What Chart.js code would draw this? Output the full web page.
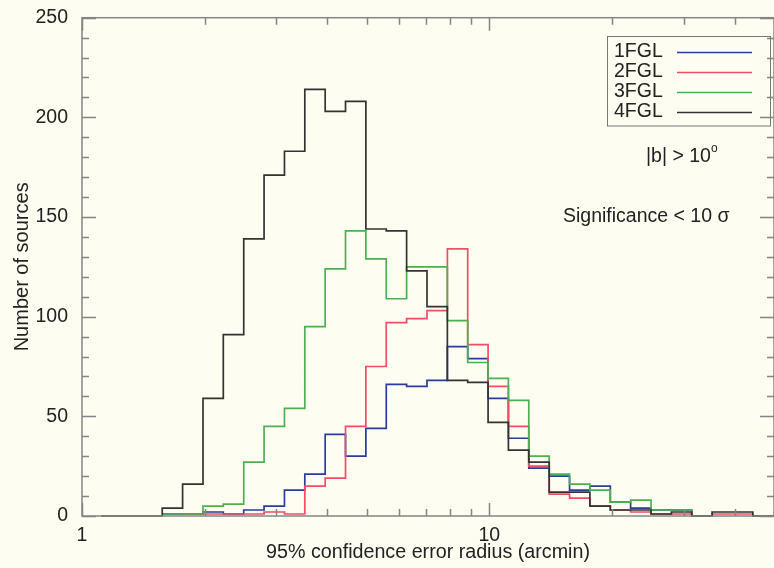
<!DOCTYPE html>
<html>
<head>
<meta charset="utf-8">
<title>Error radius histogram</title>
<script src="https://cdn.jsdelivr.net/npm/chart.js@4.4.1/dist/chart.umd.min.js"></script>
<style>
  html, body { margin: 0; padding: 0; background: #fdfdf2; }
  canvas { display: block; }
</style>
</head>
<body>
<canvas id="hist" width="774" height="568"></canvas>
<script>
// bin edges (arcmin), log-spaced 0.05 dex
const edges = [1.114, 1.250, 1.403, 1.574, 1.766, 1.982, 2.223, 2.495, 2.799, 3.141,
  3.524, 3.954, 4.436, 4.977, 5.585, 6.266, 7.031, 7.889, 8.851, 9.931,
  11.14, 12.50, 14.03, 15.74, 17.66, 19.82, 22.23, 24.95, 27.99, 31.41,
  35.24, 39.54, 44.36, 49.77];

// counts per bin, null = no entry
const fgl1 = [null, null, null, 1, 1, 2, 1, 3, 5, 13, 21, 41, 30, 44, 66, 65, 68, 85, 79, 59,
  39, 24, 20, 13, 15, 7, 4, 3, 3, 0, null, null, null];
const fgl2 = [null, null, null, null, 1, 1, 1, 1, 2, 1, 15, 19, 45, 75, 97, 99, 103, 134, 86, 65,
  45, 25, 11, 9, 5, 3, 2, 1, 1, 0, 1, 1, 0];
const fgl3 = [null, null, null, 1, 1, 5, 6, 27, 45, 54, 95, 124, 143, 129, 109, 125, 125, 98, 77, 69,
  58, 30, 21, 16, 13, 7, 8, 3, 3, 0, null, null, null];
const fgl4 = [0, 0, 0, 4, 16, 59, 91, 139, 171, 183, 214, 203, 208, 144, 143, 123, 105, 68, 67, 47,
  33, 27, 12, 12, 5, 3, 3, 1, 2, 0, 2, 2, 0];

const seriesNames = ['1FGL', '2FGL', '3FGL', '4FGL'];
const seriesColors = ['#2a3d9c', '#f04e64', '#4db04f', '#333333'];

const xLabelTicks = [1, 10];
const xMinorTicks = [2, 3, 4, 5, 6, 7, 8, 9, 20, 30, 40];
const yLabelTicks = [0, 50, 100, 150, 200, 250];
const yMinorStep = 10;

const bg = '#fdfdf2';
const axisColor = '#858585';
const textColor = '#222';
const fontFamily = '"Liberation Sans", Arial, Helvetica, sans-serif';

function toSteps(counts) {
  const pts = [];
  let last = null;
  counts.forEach((c, i) => {
    if (c === null) return;
    pts.push({ x: edges[i], y: c });
    last = i;
  });
  if (last !== null) pts.push({ x: edges[last + 1], y: counts[last] });
  return pts;
}

const allCounts = [fgl1, fgl2, fgl3, fgl4];
const datasets = allCounts.map((counts, i) => ({
  label: seriesNames[i],
  data: toSteps(counts),
  borderColor: seriesColors[i],
  borderWidth: 1.7,
  stepped: true,
  pointRadius: 0,
  fill: false,
  clip: 4,
  order: 3 - i,   // 4FGL drawn on top
}));

// frame, inward ticks (IDL style), legend box and notes
const decorPlugin = {
  id: 'decor',
  beforeDraw(chart) {
    const { ctx, width, height } = chart;
    ctx.save();
    ctx.fillStyle = bg;
    ctx.fillRect(0, 0, width, height);
    ctx.restore();
  },
  afterDraw(chart) {
    const { ctx, chartArea: a, scales } = chart;
    const xs = scales.x, ys = scales.y;
    ctx.save();
    ctx.strokeStyle = axisColor;
    ctx.lineWidth = 1.5;
    ctx.strokeRect(a.left, a.top, a.right - a.left, a.bottom - a.top);

    ctx.beginPath();
    for (let v = 0; v <= 250; v += yMinorStep) {
      const y = Math.round(ys.getPixelForValue(v)) + 0.5;
      const len = yLabelTicks.includes(v) ? 14 : 7;
      ctx.moveTo(a.left, y); ctx.lineTo(a.left + len, y);
      ctx.moveTo(a.right, y); ctx.lineTo(a.right - len, y);
    }
    xLabelTicks.concat(xMinorTicks).forEach(v => {
      const x = Math.round(xs.getPixelForValue(v)) + 0.5;
      const len = xLabelTicks.includes(v) ? 13 : 7;
      ctx.moveTo(x, a.bottom); ctx.lineTo(x, a.bottom - len);
      ctx.moveTo(x, a.top); ctx.lineTo(x, a.top + len);
    });
    ctx.stroke();

    // legend
    ctx.strokeStyle = '#777';
    ctx.lineWidth = 1;
    ctx.strokeRect(607.5, 36.5, 163, 89.5);
    ctx.font = '19.5px ' + fontFamily;
    ctx.textBaseline = 'middle';
    ctx.textAlign = 'left';
    seriesNames.forEach((name, i) => {
      const y = 52 + i * 20;
      ctx.fillStyle = textColor;
      ctx.fillText(name, 614, y);
      ctx.strokeStyle = seriesColors[i];
      ctx.lineWidth = 1.7;
      ctx.beginPath();
      ctx.moveTo(677, y + 0.5); ctx.lineTo(752, y + 0.5);
      ctx.stroke();
    });

    // notes
    ctx.fillStyle = textColor;
    ctx.fillText('|b| > 10', 646, 157);
    ctx.font = '12px ' + fontFamily;
    ctx.fillText('o', 711, 149);
    ctx.font = '19.5px ' + fontFamily;
    ctx.fillText('Significance < 10 \u03c3', 563, 217);
    ctx.restore();
  }
};

new Chart(document.getElementById('hist'), {
  type: 'line',
  data: { datasets },
  options: {
    responsive: false,
    animation: false,
    layout: { padding: { top: 17, right: -8, left: 0, bottom: 0 } },
    plugins: { legend: { display: false }, tooltip: { enabled: false } },
    scales: {
      x: {
        type: 'logarithmic',
        min: 1,
        max: 50,
        grid: { display: false },
        border: { display: false },
        afterBuildTicks: (scale) => { scale.ticks = xLabelTicks.map(v => ({ value: v })); },
        afterFit: (scale) => { scale.height = 52; },
        ticks: {
          autoSkip: false,
          maxRotation: 0,
          padding: 0,
          color: textColor,
          font: { family: fontFamily, size: 19.5 },
          callback: (v) => String(v),
        },
        title: {
          display: true,
          text: '95% confidence error radius (arcmin)',
          color: textColor,
          font: { family: fontFamily, size: 19.7, lineHeight: 1 },
          padding: { top: 0, bottom: 5.5 },
        },
      },
      y: {
        min: 0,
        max: 250,
        grid: { display: false },
        border: { display: false },
        afterBuildTicks: (scale) => { scale.ticks = yLabelTicks.map(v => ({ value: v })); },
        afterFit: (scale) => { scale.width = 82; },
        ticks: {
          padding: 6,
          color: textColor,
          font: { family: fontFamily, size: 19.5 },
        },
        title: {
          display: true,
          text: 'Number of sources',
          color: textColor,
          font: { family: fontFamily, size: 20, lineHeight: 1 },
          padding: { top: 12, bottom: 0 },
        },
      },
    },
  },
  plugins: [decorPlugin],
});
</script>
</body>
</html>
